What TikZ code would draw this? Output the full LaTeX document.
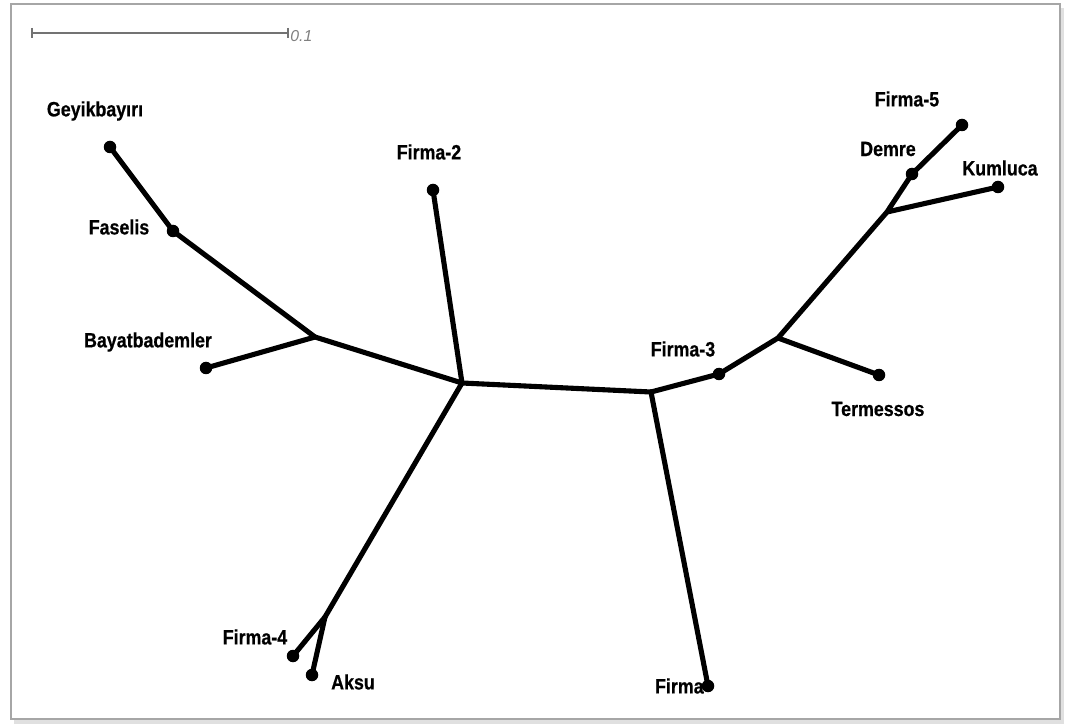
\documentclass[tikz,border=0pt]{standalone}
\usepackage{fontspec}
\setmainfont{Liberation Sans}
\newfontfamily\labelfont[FakeStretch=0.86,FakeBold=0.6]{Liberation Sans Bold}
\begin{document}
\begin{tikzpicture}[x=0.02cm,y=-0.02cm,
  branch/.style={line width=2.9pt,line cap=round,line join=round},
  leaf/.style={circle,fill=black,inner sep=0pt,minimum size=12.5*0.02cm},
  lbl/.style={font=\labelfont\fontsize{11.8}{13}\selectfont,inner sep=0pt}]
\useasboundingbox (0,0) rectangle (1066,726);
% frame with a soft shadow
\fill[black!12] (14,8) rectangle (1064,724);
\fill[white,draw=black!35,line width=0.8pt] (11,4) rectangle (1060,719);
% scale bar
\draw[black!55,line width=0.6pt] (32,28) -- (32,38) (32,33) -- (288,33) (288,28) -- (288,38);
\node[anchor=west,inner sep=0pt,text=black!50,font=\itshape\fontsize{9}{10}\selectfont] (scale) at (290,36) {0.1};
% internal branch points
\coordinate (nA) at (315,337);
\coordinate (nB) at (462,383);
\coordinate (nC) at (651,392);
\coordinate (nD) at (778,338);
\coordinate (nE) at (887,212);
\coordinate (nF) at (325,617);
% leaves
\node[leaf] (geyik) at (110,147) {};
\node[leaf] (faselis) at (173,231) {};
\node[leaf] (bayat) at (206,368) {};
\node[leaf] (f2) at (433,190) {};
\node[leaf] (f4) at (293,656) {};
\node[leaf] (aksu) at (312,675) {};
\node[leaf] (f1) at (708,686) {};
\node[leaf] (f3) at (719,374) {};
\node[leaf] (term) at (879,375) {};
\node[leaf] (demre) at (912,174) {};
\node[leaf] (f5) at (962,125) {};
\node[leaf] (kum) at (998,187) {};
% branches
\draw[branch] (geyik.center) -- (faselis.center) -- (nA) -- (nB);
\draw[branch] (bayat.center) -- (nA);
\draw[branch] (f2.center) -- (nB);
\draw[branch] (nB) -- (nF);
\draw[branch] (nF) -- (f4.center);
\draw[branch] (nF) -- (aksu.center);
\draw[branch] (nB) -- (nC);
\draw[branch] (nC) -- (f1.center);
\draw[branch] (nC) -- (f3.center) -- (nD) -- (nE) -- (demre.center) -- (f5.center);
\draw[branch] (nD) -- (term.center);
\draw[branch] (nE) -- (kum.center);
% labels
\node[lbl] (lgeyik) at (95,111) {Geyikbayırı};
\node[lbl] (lfaselis) at (119,227) {Faselis};
\node[lbl] (lbayat) at (148,342) {Bayatbademler};
\node[lbl] (lf2) at (429,152) {Firma-2};
\node[lbl] (lf4) at (255,637) {Firma-4};
\node[lbl] (laksu) at (353,682) {Aksu};
\node[lbl,anchor=east] (lf1) at (704,686) {Firma};
\node[lbl] (lf3) at (683,349) {Firma-3};
\node[lbl] (lterm) at (878,409) {Termessos};
\node[lbl] (ldemre) at (888,149) {Demre};
\node[lbl] (lf5) at (907,99) {Firma-5};
\node[lbl] (lkum) at (1000,168) {Kumluca};
\end{tikzpicture}
\end{document}
